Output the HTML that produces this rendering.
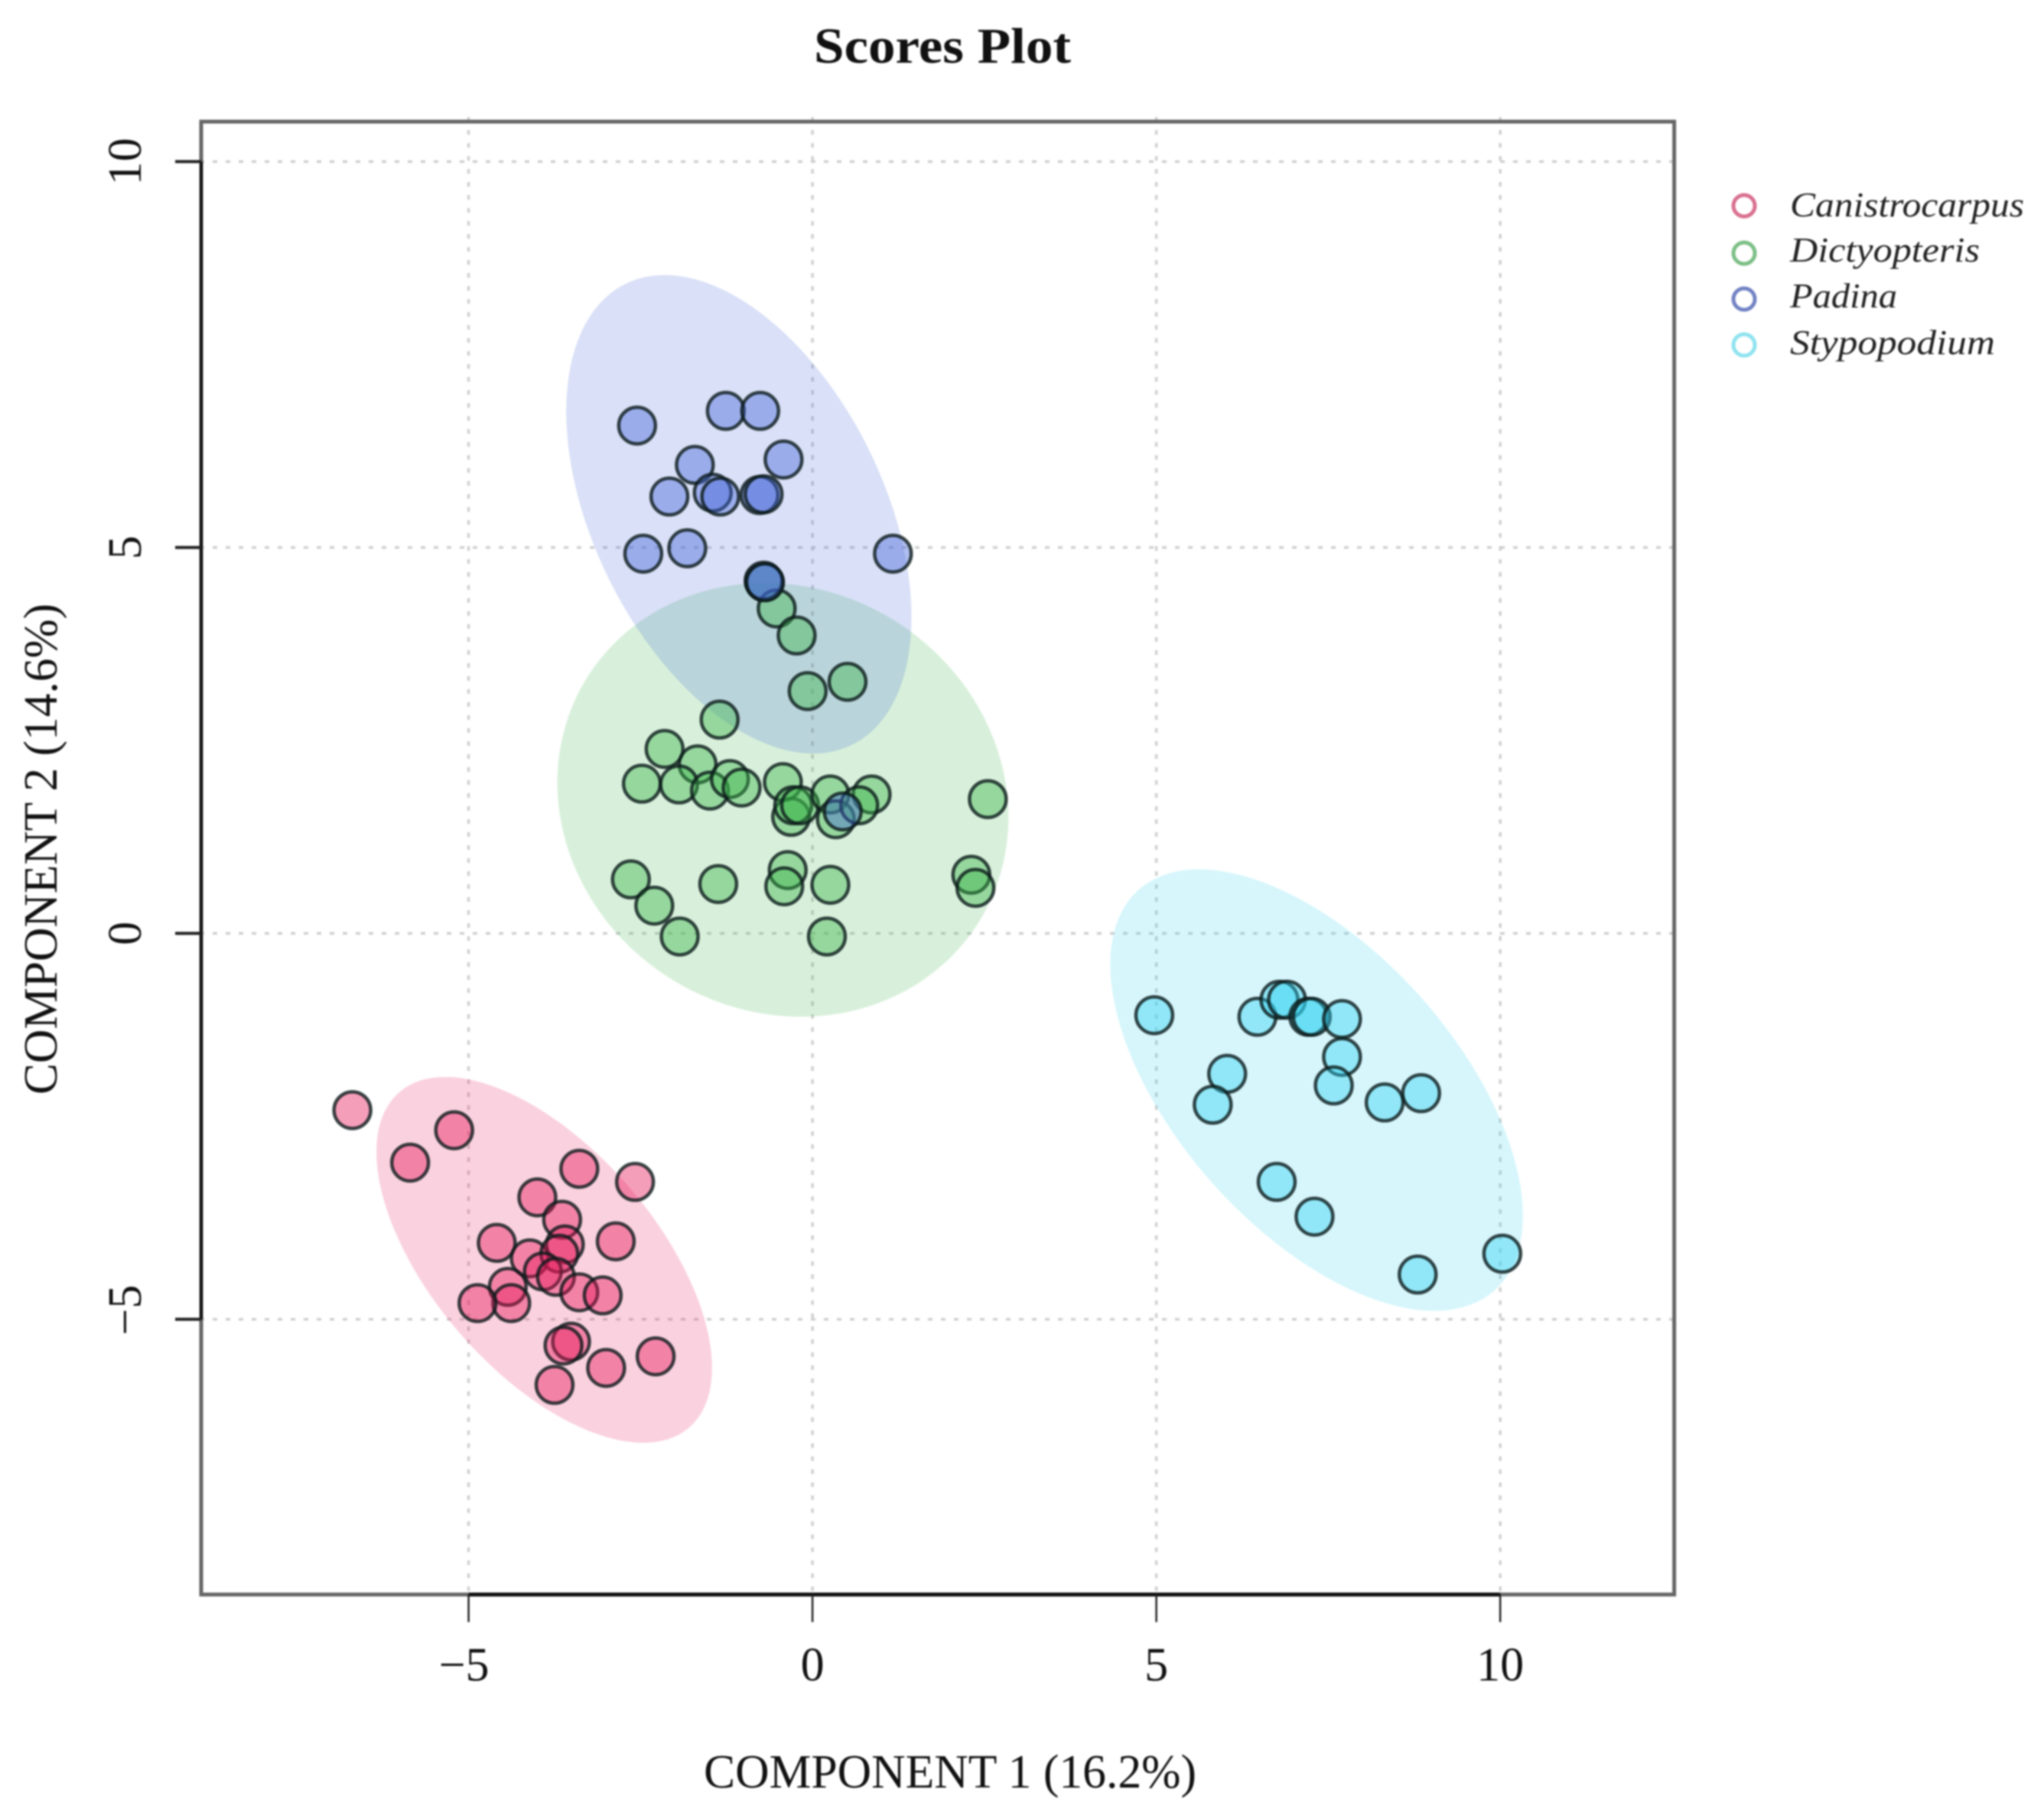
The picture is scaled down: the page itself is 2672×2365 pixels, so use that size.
<!DOCTYPE html>
<html lang="en">
<head>
<meta charset="utf-8">
<title>Scores Plot</title>
<style>
html,body{margin:0;padding:0;background:#fff;}
#chart{display:block;width:2672px;height:2365px;filter:blur(1px);font-family:"Liberation Serif",serif;}
</style>
</head>
<body>
<svg id="chart" xmlns="http://www.w3.org/2000/svg" width="2672" height="2365" viewBox="0 0 2672 2365">
  <rect x="0" y="0" width="2672" height="2365" fill="#fff"/>
  <g id="grid"></g>
  <g id="ellipses"></g>
  <g id="points"></g>
  <rect x="263" y="159" width="1925.6" height="1925.6" fill="none" stroke="#666" stroke-width="5"/>
  <g id="axes"></g>
  <text x="1232" y="82" text-anchor="middle" font-size="66" font-weight="bold" fill="#111" textLength="336" lengthAdjust="spacingAndGlyphs">Scores Plot</text>
  <text x="1242" y="2337" text-anchor="middle" font-size="62" fill="#111" textLength="644" lengthAdjust="spacingAndGlyphs">COMPONENT 1 (16.2%)</text>
  <text transform="translate(74,1110) rotate(-90)" text-anchor="middle" font-size="62" fill="#111" textLength="642" lengthAdjust="spacingAndGlyphs">COMPONENT 2 (14.6%)</text>
  <g id="legend"></g>
</svg>
<script>
var xDomain = [-8.888, 12.53];
var yDomain = [-8.566, 10.518];
var xTicks = [-5, 0, 5, 10];
var yTicks = [-5, 0, 5, 10];
var xTickLabels = ["\u22125", "0", "5", "10"];
var yTickLabels = ["\u22125", "0", "5", "10"];

var groupNames = ["Canistrocarpus", "Dictyopteris", "Padina", "Stypopodium"];
var groupColors = ["#e6195a", "#3cb44b", "#4363d8", "#32d2f0"];
var legendColors = ["#d9708f", "#7cbf86", "#7283c4", "#8fe3ef"];

var canistrocarpusX = [-6.69,-5.85,-5.21,-3.39,-2.58,-4.00,-3.64,-4.59,-2.86,-4.11,-3.60,-3.68,-4.43,-3.92,-3.73,-4.38,-4.87,-3.39,-3.05,-3.51,-3.62,-3.00,-2.28,-3.75];
var canistrocarpusY = [-2.29,-2.97,-2.55,-3.05,-3.22,-3.42,-3.71,-4.01,-3.99,-4.21,-4.03,-4.15,-4.58,-4.38,-4.45,-4.79,-4.79,-4.65,-4.69,-5.29,-5.34,-5.63,-5.48,-5.85];
var dictyopterisX = [-0.70,-0.52,-0.23,-0.07,0.51,-1.35,-2.15,-1.67,-2.48,-1.94,-1.49,-1.20,-1.03,-0.43,-0.31,-0.28,-0.18,0.26,0.34,0.86,0.68,2.55,-2.64,-1.37,-0.36,-0.41,0.26,2.31,2.37,-2.30,-1.93,0.21];
var dictyopterisY = [4.55,4.21,3.86,3.14,3.26,2.77,2.39,2.19,1.94,1.93,1.85,2.00,1.89,1.96,1.51,1.66,1.66,1.80,1.48,1.80,1.66,1.74,0.70,0.64,0.82,0.61,0.63,0.76,0.59,0.36,-0.04,-0.04];
var padinaX = [-2.55,-1.26,-0.76,-0.42,-1.71,-2.08,-1.45,-1.34,-0.77,-0.71,-2.46,-1.82,1.17,-0.71,-0.69,0.44];
var padinaY = [6.58,6.77,6.77,6.14,6.07,5.66,5.71,5.66,5.68,5.69,4.92,4.99,4.92,4.57,4.55,1.58];
var stypopodiumX = [4.97,6.47,6.79,6.90,7.21,7.26,7.70,7.70,7.58,6.03,5.82,8.32,8.85,6.75,7.30,8.80,10.03];
var stypopodiumY = [-1.06,-1.08,-0.86,-0.86,-1.08,-1.08,-1.11,-1.60,-1.97,-1.82,-2.22,-2.19,-2.07,-3.22,-3.67,-4.42,-4.15];

var ellipseCenterX = [-3.90,-0.43,-1.07,7.33];
var ellipseCenterY = [-4.23,1.73,5.43,-2.03];
var ellipseSpreadX = [2.44,3.28,2.51,3.00];
var ellipseSpreadY = [2.37,2.81,3.10,2.86];
var ellipseCorrelation = [-0.59,-0.08,-0.43,-0.57];

var plotLeft = 263, plotRight = 2188.6, plotTop = 159, plotBottom = 2084.6;
function sx(v){ return plotLeft + (v - xDomain[0]) / (xDomain[1] - xDomain[0]) * (plotRight - plotLeft); }
function sy(v){ return plotBottom - (v - yDomain[0]) / (yDomain[1] - yDomain[0]) * (plotBottom - plotTop); }

var NS = "http://www.w3.org/2000/svg";
function mk(tag, parent, attrs){
  var el = document.createElementNS(NS, tag);
  for (var k in attrs) el.setAttribute(k, attrs[k]);
  parent.appendChild(el);
  return el;
}

var gridG = document.getElementById("grid");
var i, el;
for (i = 0; i < xTicks.length; i++) {
  el = mk("line", gridG, {x1: sx(xTicks[i]), x2: sx(xTicks[i]), y1: plotTop - 6, y2: plotBottom + 4, stroke: "#d0d0d0", "stroke-width": 3.5, "stroke-dasharray": "6 11"});
  
  
}
for (i = 0; i < yTicks.length; i++) {
  el = mk("line", gridG, {x1: plotLeft - 2, x2: plotRight + 6, y1: sy(yTicks[i]), y2: sy(yTicks[i]), stroke: "#d0d0d0", "stroke-width": 3.5, "stroke-dasharray": "6 11"});
  
  
}

var ellipseG = document.getElementById("ellipses");
var steps = 120;
for (var g = 0; g < groupNames.length; g++) {
  var delta = Math.acos(ellipseCorrelation[g]);
  var d = "";
  for (var s = 0; s < steps; s++) {
    var t = s / steps * 2 * Math.PI;
    var ex = ellipseCenterX[g] + ellipseSpreadX[g] * Math.cos(t);
    var ey = ellipseCenterY[g] + ellipseSpreadY[g] * Math.cos(t + delta);
    d += (s === 0 ? "M" : "L") + sx(ex).toFixed(1) + " " + sy(ey).toFixed(1);
  }
  d += "Z";
  el = mk("path", ellipseG, {d: d, fill: groupColors[g], "fill-opacity": 0.2});
  
  
}

var pointsG = document.getElementById("points");
var seriesX = [canistrocarpusX, dictyopterisX, padinaX, stypopodiumX];
var seriesY = [canistrocarpusY, dictyopterisY, padinaY, stypopodiumY];
for (g = 0; g < seriesX.length; g++) {
  for (i = 0; i < seriesX[g].length; i++) {
    el = mk("circle", pointsG, {cx: sx(seriesX[g][i]), cy: sy(seriesY[g][i]), r: 24, fill: groupColors[g], "fill-opacity": 0.42, stroke: "#0b1a1a", "stroke-opacity": 0.8, "stroke-width": 4.5});
    
    
  }
}

var axesG = document.getElementById("axes");
el = mk("line", axesG, {x1: sx(xTicks[0]), x2: sx(xTicks[xTicks.length - 1]), y1: plotBottom, y2: plotBottom, stroke: "#111", "stroke-width": 5});


el = mk("line", axesG, {x1: plotLeft, x2: plotLeft, y1: sy(yTicks[0]), y2: sy(yTicks[yTicks.length - 1]), stroke: "#111", "stroke-width": 4});


for (i = 0; i < xTicks.length; i++) {
  el = mk("line", axesG, {x1: sx(xTicks[i]), x2: sx(xTicks[i]), y1: plotBottom, y2: plotBottom + 36, stroke: "#222", "stroke-width": 2.5});
  
  
  el = mk("text", axesG, {x: sx(xTicks[i]) - (xTicks[i] < 0 ? 6 : 0), y: 2197, "text-anchor": "middle", "font-size": 62, fill: "#111"});
  el.textContent = xTickLabels[i];
  
  
}
for (i = 0; i < yTicks.length; i++) {
  el = mk("line", axesG, {x1: plotLeft - 34, x2: plotLeft, y1: sy(yTicks[i]), y2: sy(yTicks[i]), stroke: "#222", "stroke-width": 4});
  
  
  el = mk("text", axesG, {transform: "translate(184," + (sy(yTicks[i]) - (yTicks[i] < 0 ? 12 : 0)) + ") rotate(-90)", "text-anchor": "middle", "font-size": 62, fill: "#111"});
  el.textContent = yTickLabels[i];
  
  
}

var legendG = document.getElementById("legend");
var legendCircleY = [269, 331, 391, 451];
var legendTextY = [283, 342, 402, 463];
var legendTextWidth = [306, 248, 140, 268];
for (g = 0; g < groupNames.length; g++) {
  el = mk("circle", legendG, {cx: 2280, cy: legendCircleY[g], r: 14, fill: "none", stroke: legendColors[g], "stroke-width": 5});
  
  
  el = mk("text", legendG, {x: 2340, y: legendTextY[g], "font-size": 46, "font-style": "italic", fill: "#222", textLength: legendTextWidth[g], lengthAdjust: "spacingAndGlyphs"});
  el.textContent = groupNames[g];
  
  
}
</script>
</body>
</html>
